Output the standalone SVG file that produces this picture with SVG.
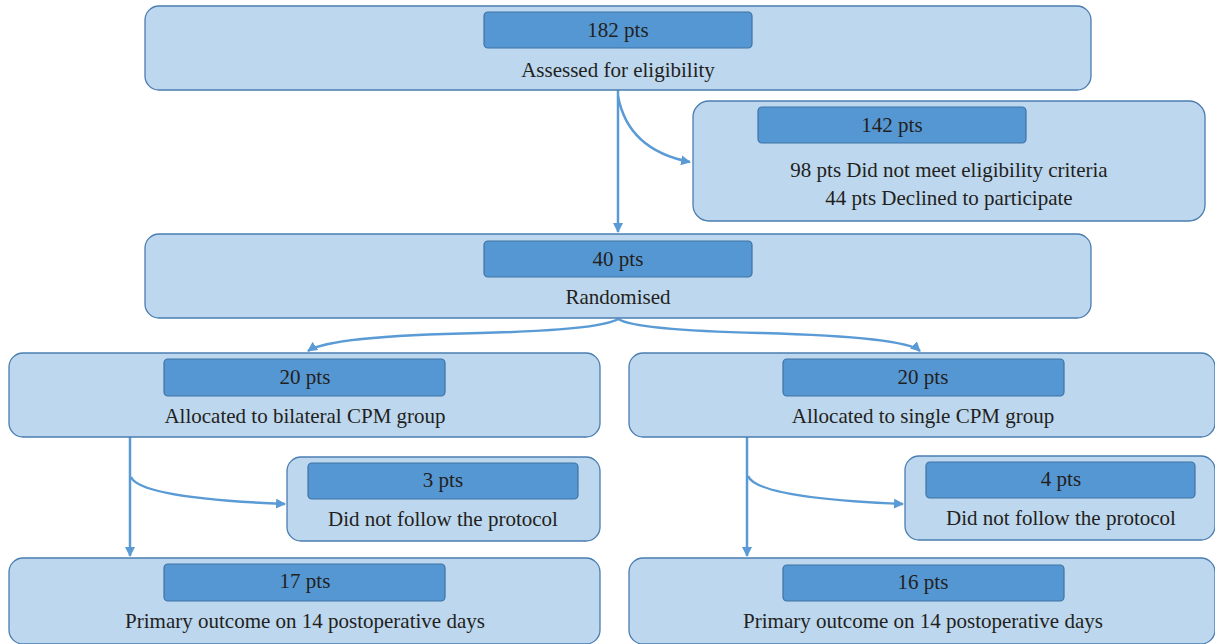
<svg xmlns="http://www.w3.org/2000/svg" width="1215" height="644" viewBox="0 0 1215 644">
<style>
.outer{fill:#bdd7ee;stroke:#4a7db0;stroke-width:1.3}
.inner{fill:#5597d3;stroke:#3f72a3;stroke-width:1.2}
text{font-family:"Liberation Serif","Times New Roman",serif;font-size:21px;fill:#231f20;text-anchor:middle;dominant-baseline:central}
.c{fill:none;stroke:#5a9bd5;stroke-width:2.5}
</style>
<defs>
<marker id="ah" viewBox="0 0 10 10" refX="9" refY="5" markerWidth="4" markerHeight="4" orient="auto" markerUnits="strokeWidth">
<path d="M0,0 L10,5 L0,10 z" fill="#5a9bd5"/>
</marker>
</defs>
<rect width="1215" height="644" fill="#ffffff"/>
<g id="connectors">
<path class="c" d="M618,90 L618,232" marker-end="url(#ah)"/>
<path class="c" d="M618,96 Q628,150 690,162" marker-end="url(#ah)"/>
<path class="c" d="M618,319 Q600,330 480,333 Q330,336 308,351" marker-end="url(#ah)"/>
<path class="c" d="M618,319 Q636,330 760,333 Q905,337 920,351" marker-end="url(#ah)"/>
<path class="c" d="M130,437 L130,556" marker-end="url(#ah)"/>
<path class="c" d="M131,477 Q140,498 285,504" marker-end="url(#ah)"/>
<path class="c" d="M747,437 L747,556" marker-end="url(#ah)"/>
<path class="c" d="M748,476 Q757,498 903,504" marker-end="url(#ah)"/>
</g>
<g id="assessed">
<rect class="outer" x="145" y="6" width="946" height="84" rx="14"/>
<rect class="inner" x="484" y="12" width="268" height="36" rx="4"/>
<text x="618" y="30">182 pts</text>
<text x="618" y="70">Assessed for eligibility</text>
</g>
<g id="excluded">
<rect class="outer" x="693" y="101" width="512" height="120" rx="16"/>
<rect class="inner" x="758" y="107" width="268" height="36" rx="4"/>
<text x="892" y="125">142 pts</text>
<text x="949" y="170">98 pts Did not meet eligibility criteria</text>
<text x="949" y="198">44 pts Declined to participate</text>
</g>
<g id="randomised">
<rect class="outer" x="145" y="234" width="946" height="84" rx="14"/>
<rect class="inner" x="484" y="241" width="268" height="36" rx="4"/>
<text x="618" y="259">40 pts</text>
<text x="618" y="297">Randomised</text>
</g>
<g id="bilateral">
<rect class="outer" x="9" y="353" width="591" height="84" rx="14"/>
<rect class="inner" x="164" y="359" width="281" height="37" rx="4"/>
<text x="305" y="377">20 pts</text>
<text x="305" y="416">Allocated to bilateral CPM group</text>
</g>
<g id="single">
<rect class="outer" x="629" y="353" width="586" height="84" rx="14"/>
<rect class="inner" x="783" y="359" width="281" height="37" rx="4"/>
<text x="923" y="377">20 pts</text>
<text x="923" y="416">Allocated to single CPM group</text>
</g>
<g id="bilateral-excl">
<rect class="outer" x="287" y="457" width="313" height="84" rx="14"/>
<rect class="inner" x="308" y="463" width="270" height="36" rx="4"/>
<text x="443" y="480">3 pts</text>
<text x="443" y="519">Did not follow the protocol</text>
</g>
<g id="single-excl">
<rect class="outer" x="905" y="456" width="310" height="84" rx="14"/>
<rect class="inner" x="926" y="462" width="269" height="36" rx="4"/>
<text x="1061" y="479">4 pts</text>
<text x="1061" y="518">Did not follow the protocol</text>
</g>
<g id="bilateral-outcome">
<rect class="outer" x="9" y="558" width="591" height="86" rx="14"/>
<rect class="inner" x="164" y="564" width="281" height="37" rx="4"/>
<text x="305" y="581">17 pts</text>
<text x="305" y="621">Primary outcome on 14 postoperative days</text>
</g>
<g id="single-outcome">
<rect class="outer" x="629" y="558" width="586" height="86" rx="14"/>
<rect class="inner" x="783" y="565" width="281" height="36" rx="4"/>
<text x="923" y="582">16 pts</text>
<text x="923" y="621">Primary outcome on 14 postoperative days</text>
</g>
</svg>
